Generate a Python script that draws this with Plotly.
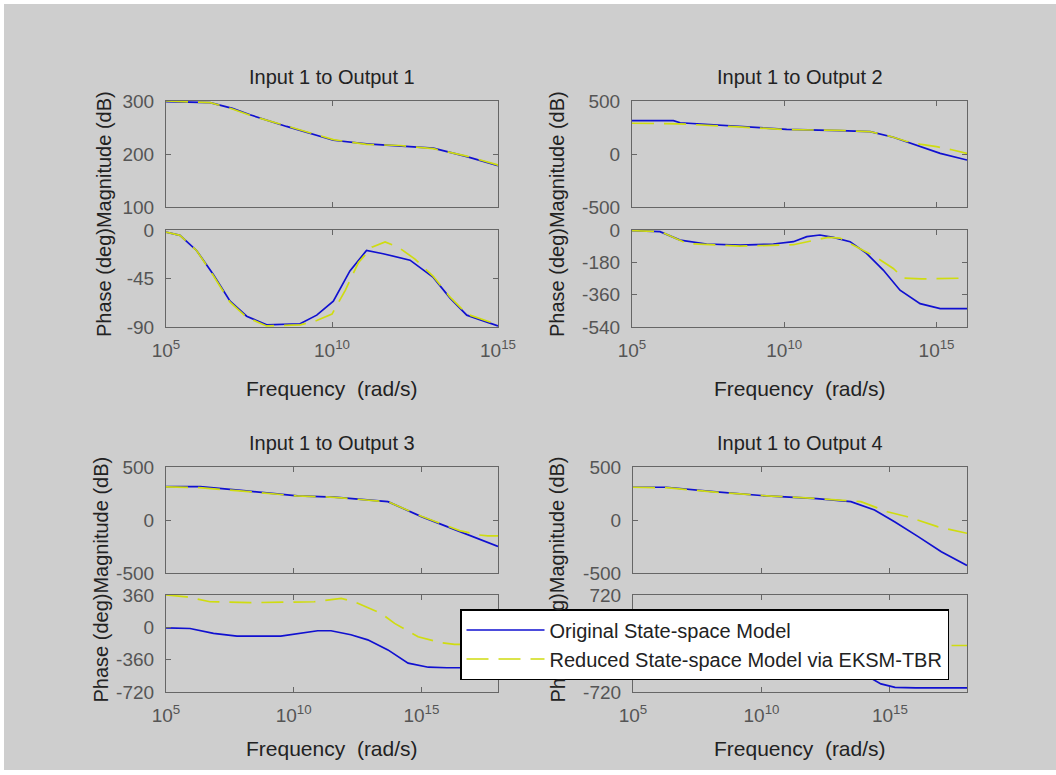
import plotly.graph_objects as go

W, H = 1056, 775

# ---------------- data (log10 of frequency in rad/s, values) ----------------
# Input 1 -> Output 1
s1_mag_x = [5.0, 5.6, 6.33, 7.0, 7.53, 8.63, 10.04, 11.04, 12.05, 13.05, 14.06, 14.96, 15.0]
s1_mag_orig = [299, 298, 297, 286, 274, 252, 226, 219, 215, 211, 195, 179, 178]
s1_mag_red = [300, 299, 297, 285, 273, 253, 227, 218, 216, 210, 196, 180, 178]
s1_ph_x_orig = [5.0, 5.42, 5.92, 6.42, 6.93, 7.43, 8.03, 9.04, 9.54, 10.04, 10.54, 11.04, 11.54, 12.35, 13.05, 13.55, 14.06, 14.96, 15.0]
s1_ph_orig = [-2, -5, -19, -41, -66, -80, -88, -87, -79, -66, -38, -19, -22, -28, -44, -63, -79, -88, -89]
s1_ph_x_red = [5.0, 5.42, 5.92, 6.42, 6.93, 7.43, 8.03, 9.04, 9.54, 10.0, 10.4, 10.8, 11.2, 11.6, 12.0, 12.5, 13.05, 13.55, 14.06, 14.96, 15.0]
s1_ph_red = [-2, -5, -19, -42, -67, -81, -89, -88, -84, -78, -56, -30, -16, -11, -16, -27, -43, -62, -78, -88, -88]

# Input 1 -> Output 2
s2_mag_x_orig = [5.0, 6.36, 6.58, 8.55, 10.08, 11.83, 12.82, 13.58, 14.35, 15.12, 16.0]
s2_mag_orig = [314, 314, 295, 258, 233, 220, 211, 158, 85, 6, -57]
s2_mag_x_red = [5.0, 6.5, 8.5, 10.0, 11.8, 12.8, 13.5, 14.0, 14.5, 15.0, 15.5, 16.0]
s2_mag_red = [290, 285, 255, 232, 222, 212, 165, 120, 90, 70, 40, 5]
s2_ph_x_orig = [5.0, 5.92, 6.58, 7.45, 8.55, 9.64, 10.3, 10.74, 11.17, 11.61, 12.16, 12.7, 13.25, 13.8, 14.46, 15.12, 16.0]
s2_ph_orig = [-4, -9, -56, -78, -84, -78, -65, -37, -28, -41, -65, -130, -223, -335, -410, -438, -438]
s2_ph_x_red = [5.0, 5.92, 6.8, 8.55, 10.3, 10.9, 11.44, 11.83, 12.49, 13.0, 13.58, 13.91, 14.5, 16.0]
s2_ph_red = [-4, -8, -75, -90, -82, -60, -41, -45, -102, -150, -214, -268, -272, -268]

# Input 1 -> Output 3
s3_mag_x_orig = [5.0, 6.34, 8.04, 10.15, 11.59, 13.69, 15.0, 16.31, 18.0]
s3_mag_orig = [314, 314, 277, 227, 215, 173, 32, -94, -250]
s3_mag_x_red = [5.0, 6.3, 8.0, 10.1, 11.6, 13.7, 15.0, 16.0, 16.5, 17.2, 17.6, 18.0]
s3_mag_red = [312, 305, 272, 228, 214, 172, 35, -60, -100, -140, -150, -150]
s3_ph_x_orig = [5.0, 5.94, 6.86, 7.78, 9.49, 10.28, 10.94, 11.46, 12.24, 12.9, 13.69, 14.48, 15.27, 16.0, 18.0]
s3_ph_orig = [-5, -13, -68, -98, -98, -68, -38, -38, -83, -139, -251, -399, -444, -450, -450]
s3_ph_x_red = [5.0, 5.8, 6.72, 8.3, 10.8, 11.86, 12.38, 13.43, 13.95, 14.87, 15.78, 16.3, 18.0]
s3_ph_red = [360, 340, 285, 275, 285, 322, 285, 155, 44, -105, -172, -190, -190]

# Input 1 -> Output 4
s4_mag_x_orig = [5.0, 6.3, 8.13, 10.2, 12.15, 13.48, 14.4, 15.18, 16.1, 17.0, 18.0]
s4_mag_orig = [309, 309, 267, 227, 202, 173, 95, -16, -157, -299, -430]
s4_mag_x_red = [5.0, 6.3, 8.1, 10.2, 12.1, 13.87, 14.9, 15.68, 16.85, 18.0]
s4_mag_red = [309, 305, 265, 228, 204, 173, 78, 31, -63, -125]
s4_ph_x_orig = [5.0, 6.0, 7.0, 9.5, 10.5, 11.5, 12.5, 13.5, 14.2, 14.65, 15.2, 16.0, 18.0]
s4_ph_orig = [0, -15, -70, -100, -70, -50, -120, -300, -500, -600, -650, -660, -660]
s4_ph_x_red = [5.0, 6.0, 7.0, 9.5, 11.5, 12.5, 13.5, 14.5, 15.5, 16.5, 18.0]
s4_ph_red = [0, -10, -60, -95, -45, -80, -150, -100, -40, -30, -30]

titles = ["Input 1 to Output 1", "Input 1 to Output 2", "Input 1 to Output 3", "Input 1 to Output 4"]
series_names = ["Original State-space Model", "Reduced State-space Model via EKSM-TBR"]
xlabel = "Frequency  (rad/s)"
ylabel = "Phase (deg)Magnitude (dB)"
# parts of the last y label left visible around the legend box
ylabel4_parts = ["Ph", "g)Magnitude (dB)"]
xtick_exps = [5, 10, 15]
mag_ticks = [[100, 200, 300], [-500, 0, 500], [-500, 0, 500], [-500, 0, 500]]
mag_ranges = [[100, 300], [-500, 500], [-500, 500], [-500, 500]]
ph_ticks = [[-90, -45, 0], [-540, -360, -180, 0], [-720, -360, 0, 360], [-720, 720]]
ph_ranges = [[-90, 0], [-540, 0], [-720, 360], [-720, 720]]
x_ranges = [[5, 15], [5, 16], [5, 18], [5, 18]]

# ---------------- layout geometry (pixels) ----------------
col_x = [(166, 498), (632, 967), (166, 498), (633, 967)]
mag_y = [(101, 207), (101, 207), (467, 573), (467, 573)]
ph_y = [(230, 327), (230, 327), (595, 692), (595, 692)]

BLUE = "#1010d0"
YEL = "#cfdc10"
AX = "#666666"
TXT = "#222222"
FONT = "Liberation Sans, Arial, sans-serif"


def dx(a, b):
    return [a / W, b / W]


def dy(top, bot):
    return [1 - bot / H, 1 - top / H]


data_sets = [
    (s1_mag_x, s1_mag_orig, s1_mag_x, s1_mag_red, s1_ph_x_orig, s1_ph_orig, s1_ph_x_red, s1_ph_red),
    (s2_mag_x_orig, s2_mag_orig, s2_mag_x_red, s2_mag_red, s2_ph_x_orig, s2_ph_orig, s2_ph_x_red, s2_ph_red),
    (s3_mag_x_orig, s3_mag_orig, s3_mag_x_red, s3_mag_red, s3_ph_x_orig, s3_ph_orig, s3_ph_x_red, s3_ph_red),
    (s4_mag_x_orig, s4_mag_orig, s4_mag_x_red, s4_mag_red, s4_ph_x_orig, s4_ph_orig, s4_ph_x_red, s4_ph_red),
]

fig = go.Figure()
layout = {}
annotations = []


def pw(v):
    return [10 ** e for e in v]


def ann(text, px, py, size=19, angle=0):
    return dict(text=text, x=px / W, y=1 - py / H, xref="paper", yref="paper",
                showarrow=False, xanchor="center", yanchor="middle", textangle=angle,
                font=dict(size=size, color=TXT, family=FONT))


for i in range(4):
    mx, mo, mxr, mr, px, po, pxr, pr = data_sets[i]
    kmag = 2 * i + 1
    kph = 2 * i + 2
    for k, xs_o, ys_o, xs_r, ys_r in [(kmag, mx, mo, mxr, mr), (kph, px, po, pxr, pr)]:
        xa = "x" if k == 1 else f"x{k}"
        ya = "y" if k == 1 else f"y{k}"
        fig.add_trace(go.Scatter(x=pw(xs_o), y=ys_o, mode="lines", name=series_names[0],
                                 line=dict(color=BLUE, width=1.7), xaxis=xa, yaxis=ya,
                                 showlegend=(k == 1), legendrank=1))
        fig.add_trace(go.Scatter(x=pw(xs_r), y=ys_r, mode="lines", name=series_names[1],
                                 line=dict(color=YEL, width=1.7, dash="22px,10px"), xaxis=xa, yaxis=ya,
                                 showlegend=(k == 1), legendrank=2))
    for k, yrng, ytk, ydom, show_xlab in [(kmag, mag_ranges[i], mag_ticks[i], mag_y[i], False),
                                         (kph, ph_ranges[i], ph_ticks[i], ph_y[i], True)]:
        xname = "xaxis" if k == 1 else f"xaxis{k}"
        yname = "yaxis" if k == 1 else f"yaxis{k}"
        yanchor = "y" if k == 1 else f"y{k}"
        xanchor = "x" if k == 1 else f"x{k}"
        layout[xname] = dict(
            type="log", range=x_ranges[i], domain=dx(*col_x[i]), anchor=yanchor,
            tickvals=[10 ** e for e in xtick_exps],
            ticktext=[f"10<sup>{e}</sup>" for e in xtick_exps],
            showticklabels=show_xlab, ticks="inside", ticklen=5, tickcolor=AX,
            showline=True, linecolor=AX, linewidth=1.2, mirror="ticks",
            showgrid=False, zeroline=False, ticklabelstandoff=6, automargin=False,
            tickfont=dict(size=19, color="#555555", family=FONT),
        )
        layout[yname] = dict(
            range=yrng, domain=dy(*ydom), anchor=xanchor, tickvals=ytk,
            ticktext=[str(v) for v in ytk],
            ticks="inside", ticklen=5, tickcolor=AX,
            showline=True, linecolor=AX, linewidth=1.2, mirror="ticks",
            showgrid=False, zeroline=False, ticklabelstandoff=7, automargin=False,
            tickfont=dict(size=19, color="#555555", family=FONT),
        )
    cx = (col_x[i][0] + col_x[i][1]) / 2
    ttl_y = 77 if i < 2 else 443
    xl_y = 388 if i < 2 else 748
    annotations.append(ann(titles[i], cx, ttl_y, size=20))
    annotations.append(ann(xlabel, cx, xl_y, size=21))
    ylx = [104, 557, 100, 557][i]
    yly = (mag_y[i][0] + ph_y[i][1]) / 2
    if i < 3:
        annotations.append(ann(ylabel, ylx, yly, size=20, angle=-90))
    else:
        # the legend box hides the middle of this label in the reference
        annotations.append(ann(ylabel4_parts[0], ylx, 690.5, size=20, angle=-90))
        annotations.append(ann(ylabel4_parts[1], ylx, 534, size=20, angle=-90))

fig.update_layout(
    width=W, height=H, margin=dict(l=0, r=0, t=0, b=0, autoexpand=False),
    paper_bgcolor="#ffffff", plot_bgcolor="#ffffff",
    annotations=annotations,
    shapes=[dict(type="rect", xref="paper", yref="paper", x0=4 / W, x1=1, y0=5 / H, y1=1 - 4 / H,
                 fillcolor="#cecece", line=dict(width=0), layer="below")],
    legend=dict(x=460 / W, y=1 - 609 / H, xanchor="left", yanchor="top",
                bgcolor="#ffffff", bordercolor="#000000", borderwidth=1.5,
                font=dict(size=20, color=TXT, family=FONT), itemwidth=78,
                tracegroupgap=0),
    **layout,
)

fig.write_html("out.html", config={"displayModeBar": False},
               post_script="document.body.style.margin='0px';")
